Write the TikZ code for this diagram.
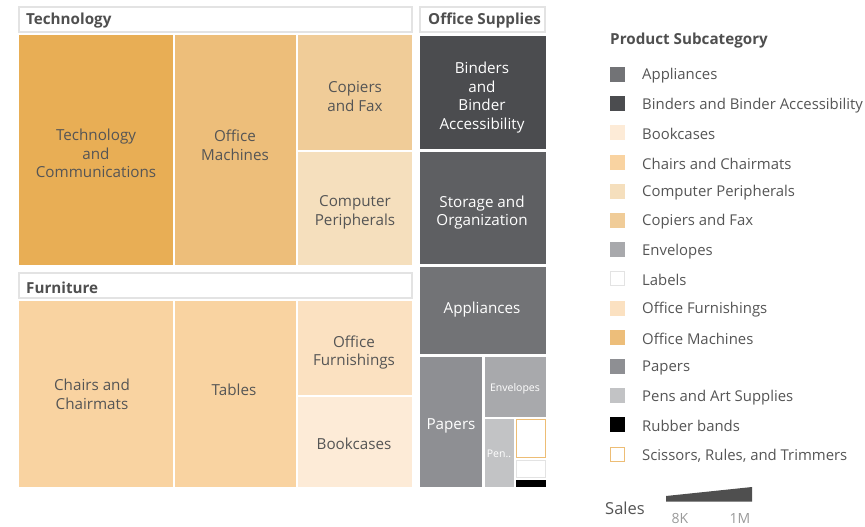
\documentclass[tikz,border=0pt]{standalone}
\usepackage{fontspec}
\setmainfont{Open Sans}

% 颜色
\definecolor{techcomm}{HTML}{E8AE55}
\definecolor{offmach}{HTML}{EDBE7A}
\definecolor{copiers}{HTML}{F0CC98}
\definecolor{compper}{HTML}{F5DFBD}
\definecolor{chairs}{HTML}{F9D3A1}
\definecolor{offfurn}{HTML}{FBE1C1}
\definecolor{bookcase}{HTML}{FDEBD7}
\definecolor{binders}{HTML}{4B4C4F}
\definecolor{storage}{HTML}{5E5F62}
\definecolor{appliance}{HTML}{727376}
\definecolor{papers}{HTML}{8E8F93}
\definecolor{envelope}{HTML}{A8A9AC}
\definecolor{pens}{HTML}{C2C3C5}
\definecolor{scissors}{HTML}{EDBD75}
\definecolor{labelsbd}{HTML}{E3E3E3}
\definecolor{txtgray}{HTML}{555555}
\definecolor{hdrgray}{HTML}{4F4F4F}
\definecolor{axisgray}{HTML}{9A9A9A}

\begin{document}
\begin{tikzpicture}[x=1pt,y=-1pt,
    hdr/.style={draw=labelsbd,line width=1.2pt,fill=white},
    hdrtext/.style={anchor=west,inner sep=0pt,text=hdrgray,font=\fontsize{15.2}{18}\selectfont\bfseries},
    celltext/.style={align=center,inner sep=0pt,text=txtgray,font=\fontsize{15.2}{18.6}\selectfont},
    darktext/.style={celltext,text=white},
    smalltext/.style={inner sep=0pt,text=white,font=\fontsize{10.5}{12}\selectfont},
    legtext/.style={anchor=west,inner sep=0pt,text=txtgray,font=\fontsize{14.9}{18}\selectfont}]

    \useasboundingbox (0,0) rectangle (865,527);

    % 分类标题
    \draw[hdr] (19,7) rectangle (412,32); % Technology 标题框
    \node[hdrtext] (techhdr) at (26,21) {Technology};
    \draw[hdr] (420,7) rectangle (545,32); % Office Supplies 标题框
    \node[hdrtext] (offhdr) at (428,21) {Office Supplies};
    \draw[hdr] (19,273) rectangle (412,298); % Furniture 标题框
    \node[hdrtext] (furnhdr) at (26,287.5) {Furniture};

    % Technology 方块
    \fill[techcomm] (19,35) rectangle (173,265);
    \fill[offmach] (175,35) rectangle (296,265);
    \fill[copiers] (298,35) rectangle (412,150);
    \fill[compper] (298,152) rectangle (412,265);
    \node[celltext] (techcomm) at (96,153.5) {Technology\\and\\Communications};
    \node[celltext] (offmach) at (235,145) {Office\\Machines};
    \node[celltext] (copiers) at (355,96.5) {Copiers\\and Fax};
    \node[celltext] (compper) at (355,212.5) {Computer\\Peripherals};

    % Furniture 方块
    \fill[chairs] (19,301) rectangle (173,487);
    \fill[chairs] (175,301) rectangle (296,487);
    \fill[offfurn] (298,301) rectangle (412,395);
    \fill[bookcase] (298,397) rectangle (412,487);
    \node[celltext] (chairs) at (92,394.5) {Chairs and\\Chairmats};
    \node[celltext] (tables) at (234,389.5) {Tables};
    \node[celltext] (offfurn) at (354,352.5) {Office\\Furnishings};
    \node[celltext] (bookcase) at (354,443.5) {Bookcases};

    % Office Supplies 方块
    \fill[binders] (420,36) rectangle (546,149);
    \fill[storage] (420,152) rectangle (546,264);
    \fill[appliance] (420,267) rectangle (546,354);
    \fill[papers] (420,357) rectangle (482,487);
    \fill[envelope] (485,357) rectangle (546,417);
    \fill[pens] (485,419) rectangle (514,487);
    \filldraw[fill=white,draw=scissors,line width=1pt] (516.5,419.5) rectangle (545,457); % Scissors
    \filldraw[fill=white,draw=labelsbd,line width=1pt] (516.5,460.5) rectangle (545,477); % Labels
    \fill[black] (516,480) rectangle (546,487); % Rubber bands
    \node[darktext] (binders) at (482,97.5) {Binders\\and\\Binder\\Accessibility};
    \node[darktext] (storage) at (482,212.5) {Storage and\\Organization};
    \node[darktext] (appliance) at (482,309.5) {Appliances};
    \node[darktext] (papers) at (451,425.5) {Papers};
    \node[smalltext] (envelope) at (515,389) {Envelopes};
    \node[smalltext] (pens) at (499,454) {Pen..};

    % 图例
    \node[anchor=west,inner sep=0pt,text=hdrgray,font=\fontsize{15.2}{18}\selectfont\bfseries] (legtitle) at (610,40.5) {Product Subcategory};
    \foreach \fc/\dc/\txt [count=\i from 0] in {appliance/appliance/Appliances,
        binders/binders/Binders and Binder Accessibility,
        bookcase/bookcase/Bookcases,
        chairs/chairs/Chairs and Chairmats,
        compper/compper/Computer Peripherals,
        copiers/copiers/Copiers and Fax,
        envelope/envelope/Envelopes,
        white/labelsbd/Labels,
        offfurn/offfurn/Office Furnishings,
        offmach/offmach/Office Machines,
        papers/papers/Papers,
        pens/pens/Pens and Art Supplies,
        black/black/Rubber bands,
        {white/scissors/Scissors, Rules, and Trimmers}}{
      \filldraw[fill=\fc,draw=\dc,line width=1pt] (610.5,{67.5+29.2*\i}) rectangle (624.5,{81.5+29.2*\i});
      \node[legtext] (leg\i) at (642,{76+29.2*\i}) {\txt};
    }

    % Sales 大小图例
    \node[legtext,font=\fontsize{16.5}{19}\selectfont] (sales) at (605,508.5) {Sales};
    \fill[hdrgray] (666,501.5) -- (752,501.5) -- (752,487) -- (666,496) -- cycle;
    \node[inner sep=0pt,text=axisgray,font=\fontsize{14}{16}\selectfont] (lo) at (680,518) {8K};
    \node[inner sep=0pt,text=axisgray,font=\fontsize{14}{16}\selectfont] (hi) at (740,518) {1M};

\end{tikzpicture}
\end{document}
